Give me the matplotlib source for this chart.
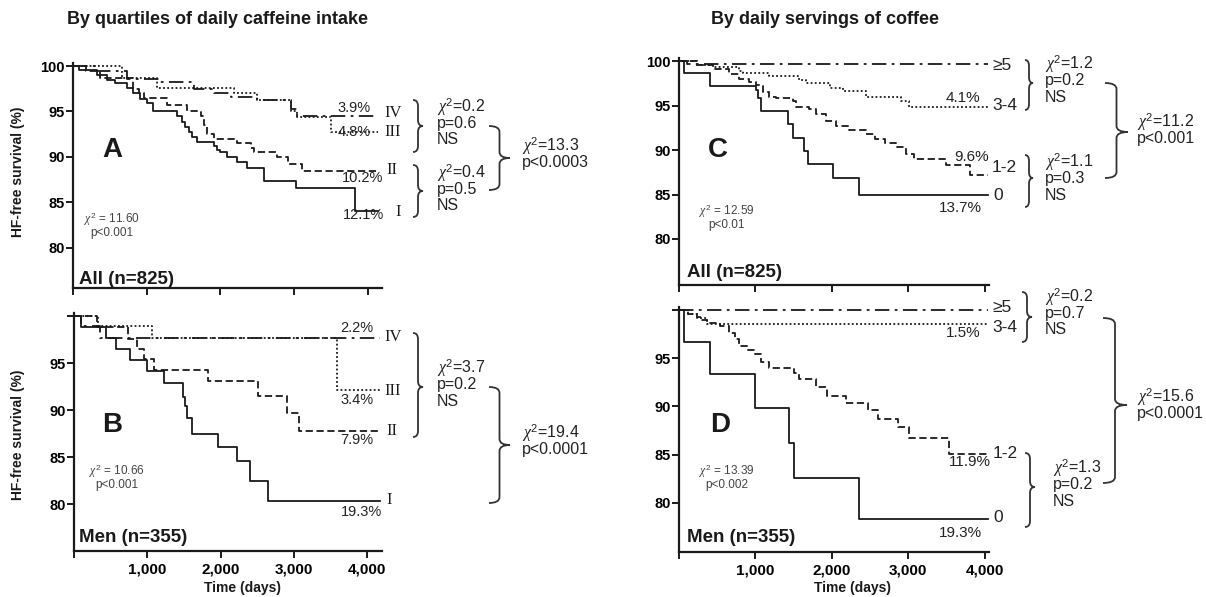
import matplotlib.pyplot as plt
from matplotlib.path import Path
from matplotlib.patches import PathPatch

plt.rcParams['font.family'] = ['Liberation Sans', 'DejaVu Sans']
plt.rcParams['mathtext.fontset'] = 'custom'
plt.rcParams['mathtext.it'] = 'Liberation Serif:italic'
plt.rcParams['mathtext.rm'] = 'Liberation Sans'

W, H = 1206, 597

# --- Kaplan-Meier step data (days, HF-free survival %) ---
# panel A: all patients, caffeine quartiles
A_I_DAYS = [0, 80, 320, 460, 570, 730, 820, 910, 1000, 1090, 1410, 1480, 1525, 1570, 1615, 1680,
            1910, 1955, 2000, 2090, 2230, 2360, 2590, 3020, 3820]
A_I_SURV = [100, 99.6, 99.0, 98.5, 98.1, 97.6, 97.0, 96.4, 95.9, 95.0, 94.5, 93.9, 93.3, 92.8, 92.2, 91.6,
            91.2, 90.8, 90.5, 90.0, 89.5, 88.8, 87.4, 86.6, 84.1]
A_II_DAYS = [0, 180, 370, 820, 900, 960, 1270, 1550, 1730, 1780, 1820, 1910, 2230, 2410, 2460, 2770, 2910, 3110]
A_II_SURV = [100, 99.5, 98.7, 97.5, 97.0, 96.5, 95.7, 95.0, 94.5, 93.5, 92.5, 92.0, 91.5, 91.0, 90.6, 90.0, 89.2, 88.5]
A_III_DAYS = [0, 660, 1140, 2180, 2500, 2950, 3040, 3500]
A_III_SURV = [100, 98.7, 97.6, 97.0, 96.3, 95.0, 94.4, 92.8]
A_IV_DAYS = [0, 320, 730, 1180, 1640, 1910, 2140, 2500, 2950, 3040]
A_IV_SURV = [100, 99.5, 98.6, 98.2, 97.5, 97.0, 96.6, 96.3, 95.3, 94.5]

# panel B: men, caffeine quartiles
B_I_DAYS = [0, 90, 430, 570, 770, 990, 1230, 1480, 1510, 1540, 1605, 1970, 2220, 2400, 2640]
B_I_SURV = [100, 98.8, 97.7, 96.5, 95.3, 94.1, 92.9, 91.4, 90.4, 89.1, 87.5, 86.1, 84.6, 82.4, 80.3]
B_II_DAYS = [0, 310, 740, 860, 960, 1090, 1830, 2510, 2900, 3070]
B_II_SURV = [100, 98.8, 97.6, 96.5, 95.4, 94.3, 93.1, 91.5, 89.7, 87.8]
B_III_DAYS = [0, 330, 1060, 3580]
B_III_SURV = [100, 98.9, 97.7, 92.1]
B_IV_DAYS = [0, 90, 350]
B_IV_SURV = [100, 98.9, 97.7]

# panel C: all patients, coffee servings
C_0_DAYS = [0, 70, 400, 1010, 1030, 1075, 1420, 1490, 1640, 1690, 2010, 2350]
C_0_SURV = [100, 98.6, 97.2, 96.7, 95.8, 94.4, 92.9, 91.4, 89.9, 88.4, 86.9, 85.0]
C_12_DAYS = [0, 230, 440, 660, 790, 920, 1010, 1100, 1180, 1270, 1490, 1530, 1700, 1790, 1920,
             2050, 2230, 2440, 2570, 2700, 2840, 2970, 3070, 3490, 3810]
C_12_SURV = [100, 99.6, 99.1, 98.5, 98.0, 97.6, 97.3, 96.5, 96.0, 95.8, 95.5, 94.8, 94.6, 94.0, 93.3,
             92.7, 92.3, 91.8, 91.2, 90.8, 90.3, 89.6, 89.0, 88.3, 87.2]
C_34_DAYS = [0, 230, 440, 790, 835, 1180, 1570, 1660, 1970, 2140, 2440, 2900, 3010]
C_34_SURV = [100, 99.6, 99.3, 98.9, 98.6, 98.3, 97.9, 97.5, 97.0, 96.6, 96.0, 95.5, 94.8]
C_5_DAYS = [0, 100]
C_5_SURV = [100, 99.7]

# panel D: men, coffee servings
D_0_DAYS = [0, 70, 400, 990, 1440, 1500, 2350]
D_0_SURV = [100, 96.7, 93.4, 89.8, 86.2, 82.6, 78.3]
D_12_DAYS = [0, 120, 230, 290, 360, 530, 660, 730, 790, 900, 990, 1070, 1180, 1510, 1570,
             1790, 1940, 2180, 2470, 2600, 2860, 3010, 3530]
D_12_SURV = [100, 99.6, 99.3, 99.0, 98.6, 98.3, 97.6, 97.0, 96.3, 95.9, 95.4, 94.6, 94.0, 93.5, 92.8,
             92.0, 91.1, 90.4, 89.6, 88.7, 87.9, 86.7, 85.1]
D_34_DAYS = [0, 120, 230, 360]
D_34_SURV = [100, 99.6, 99.2, 98.5]
D_5_DAYS = [0]
D_5_SURV = [100]

X_TICKS = [0, 1000, 2000, 3000, 4000]
X_TICK_LABELS = ['', '1,000', '2,000', '3,000', '4,000']
Y_TICKS = [80, 85, 90, 95, 100]

SOLID = '-'
DASHED = (0, (4, 2))
DOTTED = (0, (1, 1.3))
DASHDOT = (0, (8, 3, 1.5, 3))
INK = '#1a1a1a'
CHI = r'$\mathit{\chi}^{2}$'

fig = plt.figure(figsize=(W / 100, H / 100), dpi=100)


def fpos(x, y):
    # pixel position (origin top-left) -> figure fraction
    return x / W, 1 - y / H


def text(x, y, s, **kw):
    kw.setdefault('color', INK)
    kw.setdefault('va', 'center')
    kw.setdefault('ha', 'center')
    fig.text(*fpos(x, y), s, **kw)


def brace(x0, x1, ytop, ybot, ytip, r=6):
    xm = (x0 + x1) / 2
    pts = [(x0, ytop), (xm, ytop), (xm, ytop + r), (xm, ytip - r), (xm, ytip), (x1, ytip),
           (xm, ytip), (xm, ytip + r), (xm, ybot - r), (xm, ybot), (x0, ybot)]
    codes = [Path.MOVETO, Path.CURVE3, Path.CURVE3, Path.LINETO, Path.CURVE3, Path.CURVE3,
             Path.CURVE3, Path.CURVE3, Path.LINETO, Path.CURVE3, Path.CURVE3]
    path = Path([fpos(*p) for p in pts], codes)
    fig.patches.append(PathPatch(path, fill=False, lw=1.3, ec='#333333',
                                 transform=fig.transFigure, figure=fig))


def stat_block(x, y, lines, dy=16.5, size=11.5):
    for i, s in enumerate(lines):
        text(x, y + i * dy, s, ha='left', fontsize=size, color='#222222')


def make_axes(left, top, right, bottom, xmax, ylim, bottom_labels):
    ax = fig.add_axes([left / W, 1 - bottom / H, (right - left) / W, (bottom - top) / H])
    ax.set_xlim(0, xmax)
    ax.set_ylim(*ylim)
    for side in ['top', 'right']:
        ax.spines[side].set_visible(False)
    for side in ['left', 'bottom']:
        ax.spines[side].set_linewidth(1.6)
        ax.spines[side].set_color(INK)
    ax.tick_params(direction='out', length=5, width=1.4, color=INK)
    ax.tick_params(axis='y', pad=1, labelsize=10.5)
    ax.tick_params(axis='x', pad=3, labelsize=11)
    ax.set_xticks(X_TICKS)
    ax.set_xticklabels(X_TICK_LABELS if bottom_labels else [''] * 5, fontweight='bold')
    ax.set_yticks(Y_TICKS)
    ylab = [str(v) for v in Y_TICKS]
    if bottom_labels:
        ylab[-1] = ''
    ax.set_yticklabels(ylab, fontweight='bold')
    return ax


def km(ax, days, surv, end, style, lw=1.3):
    ax.step(days + [end], surv + [surv[-1]], where='post', color=INK, lw=lw,
            linestyle=style, clip_on=False)


# ---------------- Panel A ----------------
axA = make_axes(73, 63, 382, 288, 4190, (75.6, 100.33), False)
km(axA, A_IV_DAYS, A_IV_SURV, 4136, DASHDOT)
km(axA, A_III_DAYS, A_III_SURV, 4136, DOTTED)
km(axA, A_II_DAYS, A_II_SURV, 4136, DASHED)
km(axA, A_I_DAYS, A_I_SURV, 4136, SOLID)

# ---------------- Panel B ----------------
axB = make_axes(74, 313, 382, 551, 4200, (75.0, 100.32), True)
km(axB, B_IV_DAYS, B_IV_SURV, 4170, DASHDOT)
km(axB, B_III_DAYS, B_III_SURV, 4170, DOTTED)
km(axB, B_II_DAYS, B_II_SURV, 4170, DASHED)
km(axB, B_I_DAYS, B_I_SURV, 4170, SOLID)

# ---------------- Panel C ----------------
axC = make_axes(679, 58, 989, 285, 4055, (74.83, 100.34), False)
km(axC, C_5_DAYS, C_5_SURV, 4040, DASHDOT)
km(axC, C_34_DAYS, C_34_SURV, 4040, DOTTED)
km(axC, C_12_DAYS, C_12_SURV, 4040, DASHED)
km(axC, C_0_DAYS, C_0_SURV, 4040, SOLID)

# ---------------- Panel D ----------------
axD = make_axes(679, 307, 989, 552, 4055, (74.9, 100.31), True)
km(axD, D_5_DAYS, D_5_SURV, 4040, DASHDOT)
km(axD, D_34_DAYS, D_34_SURV, 4040, DOTTED)
km(axD, D_12_DAYS, D_12_SURV, 4040, DASHED)
km(axD, D_0_DAYS, D_0_SURV, 4040, SOLID)

# ---------------- titles and axis labels ----------------
text(217, 20, 'By quartiles of daily caffeine intake', fontsize=13, fontweight='bold')
text(825, 20, 'By daily servings of coffee', fontsize=13, fontweight='bold')
text(18, 172, 'HF-free survival (%)', rotation=90, fontsize=10, fontweight='bold')
text(18, 435, 'HF-free survival (%)', rotation=90, fontsize=10, fontweight='bold')
text(243, 588, 'Time (days)', fontsize=10, fontweight='bold')
text(853, 588, 'Time (days)', fontsize=10, fontweight='bold')

# ---------------- in-panel labels ----------------
for x, y, s in [(112, 150, 'A'), (112, 425, 'B'), (718, 150, 'C'), (720, 425, 'D')]:
    text(x, y, s, fontsize=20, fontweight='bold')
for x, y, s in [(79, 280, 'All (n=825)'), (79, 538, 'Men (n=355)'),
                (687, 272, 'All (n=825)'), (687, 538, 'Men (n=355)')]:
    text(x, y, s, ha='left', fontsize=13.5, fontweight='bold')
for x, y, chi, p in [(112, 220, '11.60', 'p<0.001'), (117, 472, '10.66', 'p<0.001'),
                     (727, 212, '12.59', 'p<0.01'), (727, 472, '13.39', 'p<0.002')]:
    text(x, y - 1, CHI + ' = ' + chi, fontsize=8.5, color='#444444')
    text(x, y + 13, p, fontsize=8.5, color='#444444')

# curve end labels
serif = ['Liberation Serif', 'DejaVu Serif']
for x, y, s in [(384, 113, 'IV'), (384, 132, 'III'), (386, 170, 'II'), (395, 212, 'I'),
                (384, 337, 'IV'), (384, 391, 'III'), (386, 431, 'II'), (386, 500, 'I')]:
    text(x, y, s, ha='left', fontsize=12, family=serif)
for x, y, s in [(354, 108, '3.9%'), (354, 132, '4.8%'), (363, 178, '10.2%'), (363, 215, '12.1%'),
                (357, 328, '2.2%'), (357, 400, '3.4%'), (357, 440, '7.9%'), (362, 512, '19.3%')]:
    text(x, y, s, fontsize=10.5, color='#222222')
for x, y, s in [(992, 65, '≥5'), (992, 105, '3-4'), (992, 168, '1-2'), (993, 195, '0'),
                (992, 307, '≥5'), (992, 327, '3-4'), (993, 454, '1-2'), (993, 518, '0')]:
    text(x, y, s, ha='left', fontsize=12.5, color='#222222')
for x, y, s in [(963, 98, '4.1%'), (972, 157, '9.6%'), (960, 208, '13.7%'),
                (963, 333, '1.5%'), (970, 462, '11.9%'), (960, 533, '19.3%')]:
    text(x, y, s, fontsize=11, color='#222222')

# ---------------- braces and log-rank statistics ----------------
brace(413, 423, 100, 152, 126)
stat_block(437, 107, [CHI + '=0.2', 'p=0.6', 'NS'])
brace(413, 423, 165, 217, 191)
stat_block(437, 173, [CHI + '=0.4', 'p=0.5', 'NS'])
brace(489, 510, 126, 190, 158)
stat_block(522, 146, [CHI + '=13.3', 'p<0.0003'])

brace(413, 423, 333, 437, 387)
stat_block(437, 368, [CHI + '=3.7', 'p=0.2', 'NS'])
brace(489, 510, 387, 503, 445)
stat_block(522, 433, [CHI + '=19.4', 'p<0.0001'])

brace(1025, 1033, 60, 110, 83)
stat_block(1045, 64, [CHI + '=1.2', 'p=0.2', 'NS'])
brace(1025, 1033, 155, 207, 178)
stat_block(1045, 162, [CHI + '=1.1', 'p=0.3', 'NS'])
brace(1105, 1128, 83, 178, 132)
stat_block(1137, 122, [CHI + '=11.2', 'p<0.001'])

brace(1022, 1032, 292, 342, 317)
stat_block(1045, 297, [CHI + '=0.2', 'p=0.7', 'NS'])
brace(1025, 1035, 453, 527, 487)
stat_block(1053, 468, [CHI + '=1.3', 'p=0.2', 'NS'])
brace(1103, 1127, 318, 483, 405)
stat_block(1137, 397, [CHI + '=15.6', 'p<0.0001'])

fig.savefig('out.png', dpi=100)
